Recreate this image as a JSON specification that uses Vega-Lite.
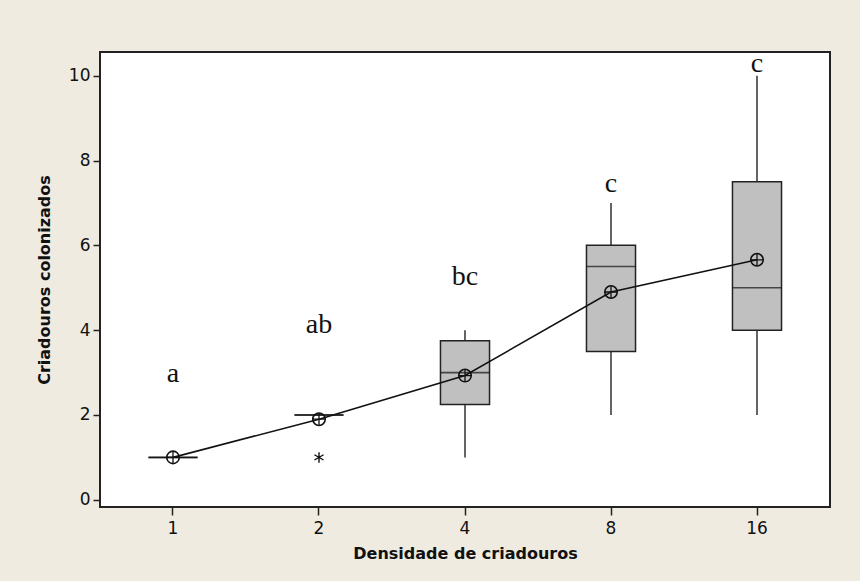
{
  "$schema": "https://vega.github.io/schema/vega-lite/v6.json",
  "width": 730,
  "height": 455,
  "autosize": {"type": "none"},
  "padding": {"left": 100, "top": 52, "right": 30, "bottom": 74},
  "background": "#EFEBE1",
  "config": {
    "view": {"fill": "white", "stroke": "#222222", "strokeWidth": 2},
    "axis": {
      "labelFont": "DejaVu Sans",
      "labelFontSize": 17,
      "labelColor": "#111111",
      "titleFont": "DejaVu Sans",
      "titleFontSize": 16,
      "titleFontWeight": "bold",
      "titleColor": "#111111",
      "tickColor": "#222222",
      "tickWidth": 1.5,
      "tickSize": 7,
      "domain": false,
      "grid": false
    }
  },
  "datasets": {
    "stats": [
      {"dens": "1", "lo": 1, "q1": 1, "med": 1, "q3": 1, "hi": 1, "mean": 1.0, "letter": "a", "ly": 2.78},
      {"dens": "2", "lo": 2, "q1": 2, "med": 2, "q3": 2, "hi": 2, "mean": 1.9, "letter": "ab", "ly": 3.94},
      {"dens": "4", "lo": 1, "q1": 2.25, "med": 3, "q3": 3.75, "hi": 4, "mean": 2.93, "letter": "bc", "ly": 5.07},
      {"dens": "8", "lo": 2, "q1": 3.5, "med": 5.5, "q3": 6, "hi": 7, "mean": 4.9, "letter": "c", "ly": 7.26},
      {"dens": "16", "lo": 2, "q1": 4, "med": 5, "q3": 7.5, "hi": 10, "mean": 5.66, "letter": "c", "ly": 10.09}
    ],
    "outliers": [
      {"dens": "2", "value": 1}
    ]
  },
  "data": {"name": "stats"},
  "encoding": {
    "x": {
      "field": "dens",
      "type": "ordinal",
      "sort": ["1", "2", "4", "8", "16"],
      "scale": {"type": "band", "paddingInner": 0.664, "paddingOuter": 0.332},
      "axis": {"title": "Densidade de criadouros", "labelAngle": 0, "labelPadding": 5, "titlePadding": 9, "tickSize": 8}
    }
  },
  "layer": [
    {
      "mark": {"type": "rule", "color": "#111111", "strokeWidth": 1.3},
      "encoding": {
        "y": {
          "field": "lo",
          "type": "quantitative",
          "scale": {"domain": [-0.17, 10.56], "nice": false, "zero": false},
          "axis": {"title": "Criadouros colonizados", "values": [0, 2, 4, 6, 8, 10], "labelPadding": 3, "titlePadding": 16}
        },
        "y2": {"field": "hi"}
      }
    },
    {
      "mark": {"type": "bar", "fill": "#C0C0C0", "stroke": "#222222", "strokeWidth": 1.5},
      "encoding": {
        "y": {"field": "q1", "type": "quantitative"},
        "y2": {"field": "q3"}
      }
    },
    {
      "mark": {"type": "tick", "color": "#111111", "thickness": 1.6, "size": 49, "orient": "horizontal"},
      "encoding": {
        "y": {"field": "med", "type": "quantitative"}
      }
    },
    {
      "mark": {"type": "line", "color": "#111111", "strokeWidth": 1.6},
      "encoding": {
        "y": {"field": "mean", "type": "quantitative"}
      }
    },
    {
      "mark": {"type": "point", "shape": "circle", "filled": false, "stroke": "#111111", "strokeWidth": 1.6, "size": 155, "opacity": 1},
      "encoding": {
        "y": {"field": "mean", "type": "quantitative"}
      }
    },
    {
      "mark": {"type": "point", "shape": "M-1,0L1,0M0,-1L0,1", "filled": false, "stroke": "#111111", "strokeWidth": 1.3, "size": 155, "opacity": 1},
      "encoding": {
        "y": {"field": "mean", "type": "quantitative"}
      }
    },
    {
      "data": {"name": "outliers"},
      "mark": {"type": "point", "shape": "M0,-1L0,1M-0.87,-0.5L0.87,0.5M-0.87,0.5L0.87,-0.5", "filled": false, "stroke": "#111111", "strokeWidth": 1.4, "size": 110, "opacity": 1},
      "encoding": {
        "y": {"field": "value", "type": "quantitative"}
      }
    },
    {
      "mark": {"type": "text", "font": "Liberation Serif", "fontSize": 28, "color": "#111111", "baseline": "alphabetic", "align": "center"},
      "encoding": {
        "y": {"field": "ly", "type": "quantitative"},
        "text": {"field": "letter"}
      }
    }
  ]
}
